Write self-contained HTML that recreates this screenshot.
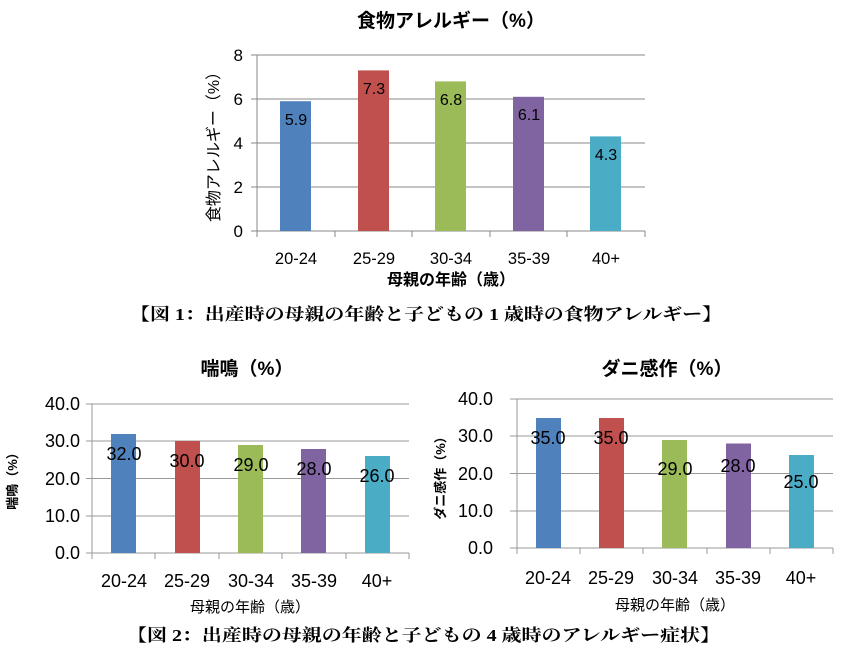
<!DOCTYPE html>
<html><head><meta charset="utf-8"><style>
body{margin:0;background:#fff}
svg{display:block}
.t{font-family:"Liberation Sans","Noto Sans CJK JP",sans-serif}
.s{font-family:"Liberation Serif","Noto Serif CJK SC",serif}
</style></head><body>
<svg width="846" height="654" xmlns="http://www.w3.org/2000/svg" class="t">
<!-- Chart 1 -->
<text x="451" y="27" font-size="19" font-weight="bold" text-anchor="middle">食物アレルギー（%）</text>
<g stroke="#888" stroke-width="1">
<line x1="251" y1="55" x2="645" y2="55"/><line x1="251" y1="99" x2="645" y2="99"/>
<line x1="251" y1="143" x2="645" y2="143"/><line x1="251" y1="187" x2="645" y2="187"/>
<line x1="251" y1="231" x2="645" y2="231"/><line x1="257" y1="55" x2="257" y2="231"/>
<line x1="257" y1="231" x2="257" y2="237"/><line x1="335" y1="231" x2="335" y2="237"/><line x1="412" y1="231" x2="412" y2="237"/><line x1="490" y1="231" x2="490" y2="237"/><line x1="567" y1="231" x2="567" y2="237"/><line x1="645" y1="231" x2="645" y2="237"/>
</g>
<rect x="280" y="101.2" width="31" height="129.8" fill="#4f81bd"/>
<rect x="358" y="70.4" width="31" height="160.6" fill="#c0504d"/>
<rect x="435" y="81.4" width="31" height="149.6" fill="#9bbb59"/>
<rect x="513" y="96.8" width="31" height="134.2" fill="#8064a2"/>
<rect x="590" y="136.4" width="31" height="94.6" fill="#4bacc6"/>
<g font-size="16" text-anchor="middle">
<text x="296" y="125">5.9</text><text x="374" y="94">7.3</text><text x="451" y="105">6.8</text><text x="529" y="120">6.1</text><text x="606" y="160">4.3</text>
</g>
<g font-size="17" text-anchor="end">
<text x="243" y="61">8</text><text x="243" y="105">6</text><text x="243" y="149">4</text><text x="243" y="193">2</text><text x="243" y="237">0</text>
</g>
<g font-size="16.5" text-anchor="middle">
<text x="296" y="264">20-24</text><text x="374" y="264">25-29</text><text x="451" y="264">30-34</text><text x="529" y="264">35-39</text><text x="606" y="264">40+</text>
</g>
<text x="451" y="285" font-size="16" font-weight="bold" text-anchor="middle">母親の年齢（歳）</text>
<text transform="translate(219,143) rotate(-90)" font-size="16" text-anchor="middle">食物アレルギー（%）</text>
<text x="130" y="320" class="s" font-size="17" font-weight="bold" textLength="592" lengthAdjust="spacingAndGlyphs">【図 1：出産時の母親の年齢と子どもの 1 歳時の食物アレルギー】</text>

<!-- Chart 2 -->
<text x="247" y="375" font-size="19" font-weight="bold" text-anchor="middle">喘鳴（%）</text>
<g stroke="#999" stroke-width="1">
<line x1="86" y1="404" x2="409" y2="404"/><line x1="86" y1="441" x2="409" y2="441"/><line x1="86" y1="478.5" x2="409" y2="478.5"/><line x1="86" y1="516" x2="409" y2="516"/><line x1="86" y1="553" x2="409" y2="553"/>
<line x1="92" y1="404" x2="92" y2="553"/>
<line x1="92" y1="553" x2="92" y2="559"/><line x1="155" y1="553" x2="155" y2="559"/><line x1="219" y1="553" x2="219" y2="559"/><line x1="282" y1="553" x2="282" y2="559"/><line x1="346" y1="553" x2="346" y2="559"/><line x1="409" y1="553" x2="409" y2="559"/>
</g>
<rect x="111" y="434" width="25" height="119" fill="#4f81bd"/>
<rect x="175" y="441" width="25" height="112" fill="#c0504d"/>
<rect x="238" y="445" width="25" height="108" fill="#9bbb59"/>
<rect x="301" y="449" width="25" height="104" fill="#8064a2"/>
<rect x="365" y="456" width="25" height="97" fill="#4bacc6"/>
<g font-size="18" text-anchor="middle">
<text x="124" y="460">32.0</text><text x="187" y="467">30.0</text><text x="251" y="471">29.0</text><text x="314" y="475">28.0</text><text x="377" y="482">26.0</text>
</g>
<g font-size="18" text-anchor="end">
<text x="80" y="410">40.0</text><text x="80" y="447">30.0</text><text x="80" y="485">20.0</text><text x="80" y="522">10.0</text><text x="80" y="559">0.0</text>
</g>
<g font-size="18" text-anchor="middle">
<text x="124" y="587">20-24</text><text x="187" y="587">25-29</text><text x="251" y="587">30-34</text><text x="314" y="587">35-39</text><text x="377" y="587">40+</text>
</g>
<text x="250" y="612" font-size="15" text-anchor="middle">母親の年齢（歳）</text>
<text transform="translate(17,478) rotate(-90)" font-size="13" font-weight="bold" text-anchor="middle">喘鳴（%）</text>

<!-- Chart 3 -->
<text x="667" y="375" font-size="19" font-weight="bold" text-anchor="middle">ダニ感作（%）</text>
<g stroke="#999" stroke-width="1">
<line x1="510" y1="399" x2="833" y2="399"/><line x1="510" y1="436" x2="833" y2="436"/><line x1="510" y1="473.5" x2="833" y2="473.5"/><line x1="510" y1="511" x2="833" y2="511"/><line x1="510" y1="548" x2="833" y2="548"/>
<line x1="517" y1="399" x2="517" y2="548"/>
<line x1="517" y1="548" x2="517" y2="554"/><line x1="580" y1="548" x2="580" y2="554"/><line x1="643" y1="548" x2="643" y2="554"/><line x1="707" y1="548" x2="707" y2="554"/><line x1="770" y1="548" x2="770" y2="554"/><line x1="833" y1="548" x2="833" y2="554"/>
</g>
<rect x="536" y="418" width="25" height="130" fill="#4f81bd"/>
<rect x="599" y="418" width="25" height="130" fill="#c0504d"/>
<rect x="662" y="440" width="25" height="108" fill="#9bbb59"/>
<rect x="726" y="443.5" width="25" height="104.5" fill="#8064a2"/>
<rect x="789" y="455" width="25" height="93" fill="#4bacc6"/>
<g font-size="18" text-anchor="middle">
<text x="548" y="444">35.0</text><text x="611" y="444">35.0</text><text x="675" y="475">29.0</text><text x="738" y="472">28.0</text><text x="801" y="488">25.0</text>
</g>
<g font-size="18" text-anchor="end">
<text x="493" y="405">40.0</text><text x="493" y="442">30.0</text><text x="493" y="480">20.0</text><text x="493" y="517">10.0</text><text x="493" y="554">0.0</text>
</g>
<g font-size="18" text-anchor="middle">
<text x="548" y="584">20-24</text><text x="611" y="584">25-29</text><text x="675" y="584">30-34</text><text x="738" y="584">35-39</text><text x="801" y="584">40+</text>
</g>
<text x="675" y="610" font-size="15" text-anchor="middle">母親の年齢（歳）</text>
<text transform="translate(445,475) rotate(-90)" font-size="13" font-weight="bold" text-anchor="middle">ダニ感作（%）</text>

<text x="127" y="641" class="s" font-size="17" font-weight="bold" textLength="593" lengthAdjust="spacingAndGlyphs">【図 2：出産時の母親の年齢と子どもの 4 歳時のアレルギー症状】</text>
</svg>
</body></html>
